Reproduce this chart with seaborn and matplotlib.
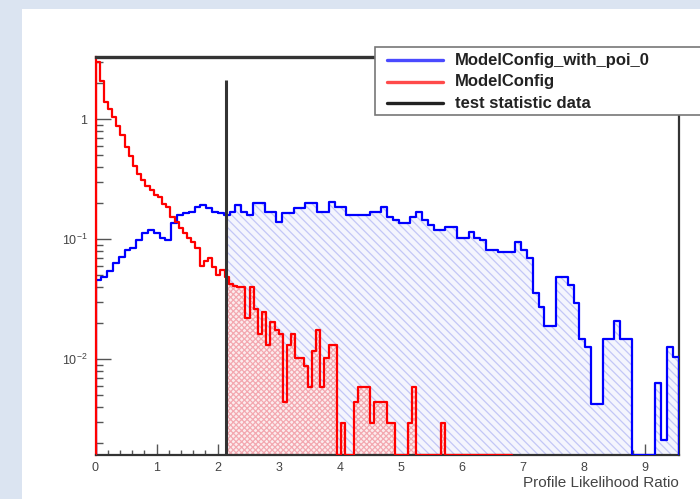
import numpy as np
import pandas as pd
import matplotlib
matplotlib.use("Agg")
import matplotlib.pyplot as plt
from matplotlib.patches import Rectangle
from matplotlib.lines import Line2D
from matplotlib.ticker import FixedLocator, MultipleLocator, LogLocator, NullFormatter, FixedFormatter
import seaborn as sns

# ---------------- data ----------------
n_bins = 100
x_max_null = 6.82      # range of the ModelConfig histogram
x_max_alt = 9.55       # range of the ModelConfig_with_poi_0 histogram
n_toys_null = 10000
n_toys_alt = 5000
test_stat = 2.14
test_stat_height = 2.13

null_counts = [2040, 1420, 950, 830, 713, 600, 500, 400, 340, 280,
               240, 212, 190, 175, 160, 153, 135, 126, 104, 95,
               85, 77, 70, 65, 58, 41, 45, 48, 40, 34,
               38, 33, 29, 28, 27, 27, 15, 27, 18, 11,
               17, 9, 14, 12, 11, 3, 9, 11, 7, 7,
               6, 4, 8, 12, 4, 7, 9, 9, 0, 2,
               0, 0, 3, 4, 4, 4, 2, 3, 3, 3,
               2, 2, 0, 0, 0, 2, 4, 0, 0, 0,
               0, 0, 0, 2, 0, 0, 0, 0, 0, 0,
               0, 0, 0, 0, 0, 0, 0, 0, 0, 0]

alt_counts = [22, 23, 26, 30, 34, 39, 40, 47, 54, 57,
              54, 49, 47, 65, 76, 79, 80, 88, 92, 87,
              80, 79, 76, 80, 92, 80, 76, 95, 95, 80,
              80, 66, 79, 79, 87, 87, 95, 95, 80, 80,
              97, 88, 88, 76, 76, 76, 76, 80, 80, 88,
              73, 69, 65, 65, 73, 80, 69, 63, 57, 57,
              60, 60, 49, 49, 55, 49, 47, 39, 39, 37,
              37, 37, 45, 39, 33, 17, 13, 9, 9, 23,
              23, 20, 14, 7, 6, 2, 2, 7, 7, 10,
              7, 7, 0, 0, 0, 0, 3, 1, 6, 5]

legend_labels = ["ModelConfig_with_poi_0", "ModelConfig", "test statistic data"]
x_title = "Profile Likelihood Ratio"

# ---------------- derived ----------------
y_min, y_max = 10 ** -2.80, 10 ** 0.52

edges_null = np.linspace(0, x_max_null, n_bins + 1)
edges_alt = np.linspace(0, x_max_alt, n_bins + 1)
dens_null = np.array(null_counts) / (n_toys_null * (x_max_null / n_bins))
dens_alt = np.array(alt_counts) / (n_toys_alt * (x_max_alt / n_bins))

RED = "#ff0000"
BLUE = "#0000ff"
DARK = "#333333"

sns.set_theme(style="white")
plt.rcParams["font.family"] = ["Liberation Sans", "DejaVu Sans"]
plt.rcParams["mathtext.fontset"] = "custom"
plt.rcParams["mathtext.rm"] = "Liberation Sans"
plt.rcParams["mathtext.it"] = "Liberation Sans:italic"
plt.rcParams["hatch.linewidth"] = 0.9

fig = plt.figure(figsize=(7.0, 4.99), dpi=100)
fig.patch.set_facecolor("#dbe4f1")
fig.add_artist(Rectangle((22.5 / 700, 0), 1.0, 1 - 9 / 499, transform=fig.transFigure,
                         facecolor="white", edgecolor="none", zorder=-5))

ax = fig.add_axes([95.5 / 700, (499 - 455) / 499, 583 / 700, 398 / 499])
ax.set_facecolor("white")


def shade(edges, dens, color, face, hatch):
    i0 = np.searchsorted(edges, test_stat) - 1
    xs = np.concatenate([[test_stat], edges[i0 + 1:]])
    ys = np.concatenate([dens[i0:], [dens[-1]]])
    ys = np.maximum(ys, y_min)
    ax.fill_between(xs, y_min, ys, step="post", facecolor=face, edgecolor=color,
                    hatch=hatch, linewidth=0, zorder=1)


def outline(edges, dens, col):
    # closed ROOT-like step outline: up from the floor at the first edge, down at the last
    vals = np.maximum(dens, y_min)
    xs = np.concatenate([[edges[0]], edges[:-1], [edges[-1], edges[-1]]])
    ys = np.concatenate([[y_min * 0.5], vals, [vals[-1], y_min * 0.5]])
    df = pd.DataFrame({"x": xs, "y": ys})
    sns.lineplot(data=df, x="x", y="y", estimator=None, sort=False,
                 drawstyle="steps-post", color=col, linewidth=1.6, ax=ax, zorder=3)


shade(edges_alt, dens_alt, "#c3c7f6", "#f4f5fd", "\\\\\\\\")
shade(edges_null, dens_null, "#f3a8b0", "#fcecee", "xxxxxx")

outline(edges_alt, dens_alt, BLUE)
outline(edges_null, dens_null, RED)

ax.vlines(test_stat, y_min, test_stat_height, color=DARK, linewidth=2.2, zorder=4)

ax.set_yscale("log")
ax.set_xlim(0, x_max_alt)
ax.set_ylim(y_min, y_max)

# axes frame
for side in ["top", "right", "bottom"]:
    ax.spines[side].set_color(DARK)
    ax.spines[side].set_linewidth(1.6)
ax.spines["top"].set_linewidth(2.4)
ax.spines["left"].set_color(RED)
ax.spines["left"].set_linewidth(1.6)

ax.xaxis.set_major_locator(MultipleLocator(1))
ax.xaxis.set_minor_locator(MultipleLocator(0.2))
ax.yaxis.set_major_locator(FixedLocator([1e-2, 1e-1, 1]))
ax.yaxis.set_major_formatter(FixedFormatter([r"$10^{-2}$", r"$10^{-1}$", "1"]))
ax.yaxis.set_minor_locator(LogLocator(base=10, subs=np.arange(2, 10), numticks=20))
ax.yaxis.set_minor_formatter(NullFormatter())

ax.tick_params(axis="both", which="both", direction="in", colors="#555555", width=1.0,
               bottom=True, left=True, top=False, right=False, labelcolor="#444444")
ax.tick_params(axis="x", which="major", length=8, pad=5, labelsize=9)
ax.tick_params(axis="x", which="minor", length=3.6)
ax.tick_params(axis="y", which="major", length=10.8, pad=6, labelsize=9)
ax.tick_params(axis="y", which="minor", length=5)

ax.set_ylabel("")
ax.set_xlabel(x_title, fontsize=11, color="#444444", ha="right", va="top")
ax.xaxis.set_label_coords(1.0, -0.053)

# legend box (ROOT style, extends past the right edge)
fig.add_artist(Rectangle((375 / 700, 1 - 115 / 499), (720 - 375) / 700, (115 - 46.7) / 499,
                         transform=fig.transFigure, facecolor="white", edgecolor="#777777",
                         linewidth=1.2, zorder=10))
for yy, col, lab in zip([60, 82, 103], ["#4a4aff", "#ff4a4a", "#222222"], legend_labels):
    fy = 1 - yy / 499
    fig.add_artist(Line2D([387 / 700, 443 / 700], [fy, fy], transform=fig.transFigure,
                          color=col, linewidth=2.4, zorder=11))
    fig.text(455 / 700, fy, lab, fontsize=12, fontweight="bold", color="#222222",
             ha="left", va="center", zorder=11)

fig.savefig("out.png", dpi=100)
